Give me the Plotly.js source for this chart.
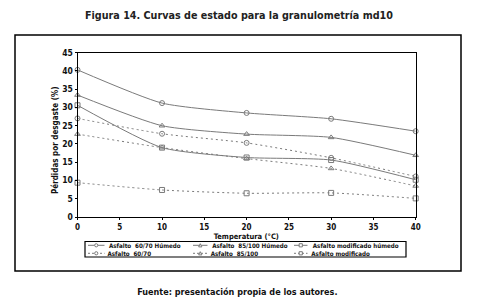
<!DOCTYPE html>
<html>
<head>
<meta charset="utf-8">
<script src="https://cdn.plot.ly/plotly-3.0.1.min.js"></script>
<style>
html,body{margin:0;padding:0;background:#fff;}
#chart{width:477px;height:299px;}
#chart svg text{font-stretch:condensed !important;}
</style>
</head>
<body>
<div id="chart"></div>
<script>
const temperatures = [0, 10, 20, 30, 40];
const seriesNames = [
  "Asfalto  60/70 Húmedo",
  "Asfalto  85/100 Húmedo",
  "Asfalto modificado húmedo",
  "Asfalto  60/70",
  "Asfalto  85/100",
  "Asfalto modificado"
];
const asfalto6070Humedo = [40.3, 31.2, 28.5, 26.9, 23.5];
const asfalto85100Humedo = [33.4, 25.0, 22.7, 21.8, 16.9];
const asfaltoModHumedo = [30.6, 19.0, 16.3, 15.6, 10.2];
const asfalto6070 = [27.0, 22.8, 20.3, 16.2, 11.1];
const asfalto85100 = [22.7, 19.0, 16.0, 13.3, 8.5];
const asfaltoMod = [9.4, 7.4, 6.5, 6.6, 5.1];
const xTicks = [0, 5, 10, 15, 20, 25, 30, 35, 40];
const yTicks = [0, 5, 10, 15, 20, 25, 30, 35, 40, 45];

const W = 477, H = 299;
const FONT = "DejaVu Sans, sans-serif";
const GRAY = "#7a7a7a";
const px = x => x / W;
const py = y => 1 - y / H;

const allSeries = [asfalto6070Humedo, asfalto85100Humedo, asfaltoModHumedo, asfalto6070, asfalto85100, asfaltoMod];
const symbols = ["circle-open", "triangle-up-open", "square-open", "circle-open", "triangle-up-open", "square-open"];
const dashed = [false, false, false, true, true, true];

const traces = allSeries.map((ys, i) => ({
  x: temperatures, y: ys, name: seriesNames[i], type: "scatter", mode: "lines+markers",
  line: {color: GRAY, width: 1, shape: "spline", smoothing: 0.6, dash: dashed[i] ? "2px,3px" : "solid"},
  marker: {symbol: symbols[i], size: 5, color: GRAY, line: {color: GRAY, width: 1}},
  showlegend: false, cliponaxis: false
}));

const shapes = [
  {type: "rect", xref: "paper", yref: "paper", x0: px(15), x1: px(461), y0: py(35), y1: py(271), line: {color: "#000", width: 1.5}},
  {type: "rect", xref: "paper", yref: "paper", x0: px(85), x1: px(406), y0: py(241.5), y1: py(257), line: {color: "#000", width: 1.2}}
];
const annotations = [];
const legendCols = [[88, 106], [193, 209], [294, 309]];
const legendRows = [245.3, 253.3];
seriesNames.forEach((name, i) => {
  const col = legendCols[i % 3], row = legendRows[Math.floor(i / 3)];
  shapes.push({type: "line", xref: "paper", yref: "paper", x0: px(col[0]), x1: px(col[1] - 1.5), y0: py(row), y1: py(row),
    line: {color: GRAY, width: 1, dash: dashed[i] ? "2px,2px" : "solid"}});
  const cx = (col[0] + col[1] - 1.5) / 2, r = 1.6;
  if (i % 3 === 0) {
    shapes.push({type: "circle", xref: "paper", yref: "paper", x0: px(cx - r), x1: px(cx + r), y0: py(row - r), y1: py(row + r), fillcolor: "#fff", line: {color: GRAY, width: 1}});
  } else if (i % 3 === 1) {
    shapes.push({type: "path", xref: "paper", yref: "paper", path: `M ${px(cx - r)} ${py(row + r)} L ${px(cx + r)} ${py(row + r)} L ${px(cx)} ${py(row - r)} Z`, fillcolor: "#fff", line: {color: GRAY, width: 1}});
  } else {
    shapes.push({type: "rect", xref: "paper", yref: "paper", x0: px(cx - r), x1: px(cx + r), y0: py(row - r), y1: py(row + r), fillcolor: "#fff", line: {color: GRAY, width: 1}});
  }
  annotations.push({xref: "paper", yref: "paper", x: px(col[1] - 2.5), y: py(row), xanchor: "left", yanchor: "middle", showarrow: false,
    text: "<b>" + name + "</b>", font: {family: FONT, size: 6.2, color: "#111"}, borderpad: 0});
});
annotations.push({xref: "paper", yref: "paper", x: px(237), y: py(292), xanchor: "center", yanchor: "middle", showarrow: false,
  text: "<b>Fuente: presentación propia de los autores.</b>", font: {family: FONT, size: 9, color: "#111"}});
annotations.push({xref: "paper", yref: "paper", x: px(246.6), y: py(236.5), xanchor: "center", yanchor: "middle", showarrow: false,
  text: "<b>Temperatura (°C)</b>", font: {family: FONT, size: 7.5, color: "#111"}, borderpad: 0});
annotations.push({xref: "paper", yref: "paper", x: px(55), y: py(140), xanchor: "center", yanchor: "middle", showarrow: false, textangle: -90,
  text: "<b>Pérdidas por desgaste (%)</b>", font: {family: FONT, size: 8, color: "#111"}, borderpad: 0});

const layout = {
  width: W, height: H, margin: {l: 0, r: 0, t: 0, b: 0},
  paper_bgcolor: "#fff", plot_bgcolor: "#fff",
  font: {family: FONT, color: "#111"},
  showlegend: false,
  title: {text: "<b>Figura 14. Curvas de estado para la granulometría md10</b>", x: px(239), xanchor: "center", y: py(15), yanchor: "middle", yref: "container", xref: "container",
    font: {family: FONT, size: 10.7, color: "#222"}},
  xaxis: {domain: [px(77.5), px(415.7)], range: [0, 40], tickvals: xTicks, ticktext: xTicks.map(v => "<b>" + v + "</b>"),
    showline: true, mirror: true, linecolor: "#000", linewidth: 1, ticks: "outside", ticklen: 2, tickcolor: "#000",
    showgrid: false, zeroline: false, tickfont: {family: FONT, size: 8, color: "#111"}},
  yaxis: {domain: [py(217), py(52.7)], range: [0, 45], tickvals: yTicks, ticktext: yTicks.map(v => "<b>" + v + "</b>"),
    showline: true, mirror: true, linecolor: "#000", linewidth: 1, ticks: "outside", ticklen: 2, tickcolor: "#000",
    showgrid: false, zeroline: false, tickfont: {family: FONT, size: 8.5, color: "#111"}},
  shapes: shapes, annotations: annotations
};
Plotly.newPlot("chart", traces, layout, {staticPlot: true, displayModeBar: false});
</script>
</body>
</html>
